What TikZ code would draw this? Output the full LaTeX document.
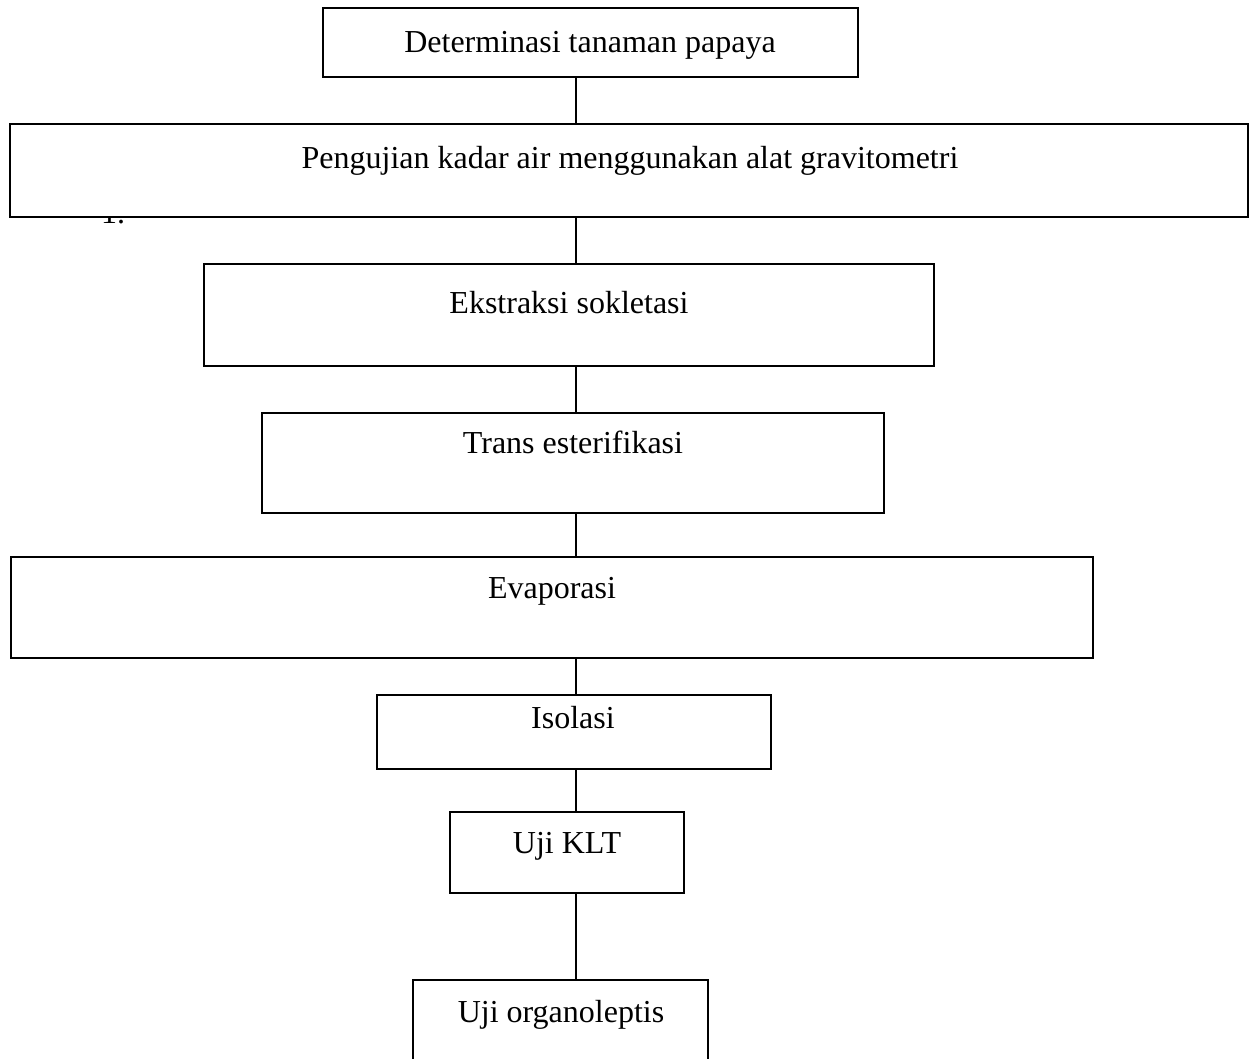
\documentclass[tikz,border=0pt]{standalone}
\usepackage{fontspec}
\setmainfont{Liberation Serif}
\begin{document}
\begin{tikzpicture}[x=1pt,y=-1pt,
  box/.style={draw=black,line width=2pt,fill=white},
  lbl/.style={anchor=base,inner sep=0pt,font=\fontsize{32}{36}\selectfont},
  conn/.style={draw=black,line width=2pt}]
\useasboundingbox[fill=white] (0,0) rectangle (1250,1058);
\clip (0,0) rectangle (1250,1058);
% stray fragment of text, mostly hidden behind box 2
\node[lbl,anchor=base west] (frag) at (101,223) {1.};
% boxes
\coordinate (b1a) at (323,8);   \coordinate (b1b) at (858,77);
\coordinate (b2a) at (10,124);  \coordinate (b2b) at (1248,217);
\coordinate (b3a) at (204,264); \coordinate (b3b) at (934,366);
\coordinate (b4a) at (262,413); \coordinate (b4b) at (884,513);
\coordinate (b5a) at (11,557);  \coordinate (b5b) at (1093,658);
\coordinate (b6a) at (377,695); \coordinate (b6b) at (771,769);
\coordinate (b7a) at (450,812); \coordinate (b7b) at (684,893);
\coordinate (b8a) at (413,980); \coordinate (b8b) at (708,1080);
\foreach \i in {1,...,8} {\filldraw[box] (b\i a) rectangle (b\i b);}
% labels
\node[lbl] (t1) at (590,52) {Determinasi tanaman papaya};
\node[lbl] (t2) at (630,168) {Pengujian kadar air menggunakan alat gravitometri};
\node[lbl] (t3) at (569,313) {Ekstraksi sokletasi};
\node[lbl] (t4) at (573,453) {Trans esterifikasi};
\node[lbl] (t5) at (552,598) {Evaporasi};
\node[lbl] (t6) at (573,728) {Isolasi};
\node[lbl] (t7) at (567,853) {Uji KLT};
\node[lbl] (t8) at (561,1022) {Uji organoleptis};
% connectors
\coordinate (c1a) at (576,77);  \coordinate (c1b) at (576,124);
\coordinate (c2a) at (576,217); \coordinate (c2b) at (576,264);
\coordinate (c3a) at (576,366); \coordinate (c3b) at (576,413);
\coordinate (c4a) at (576,513); \coordinate (c4b) at (576,557);
\coordinate (c5a) at (576,658); \coordinate (c5b) at (576,695);
\coordinate (c6a) at (576,769); \coordinate (c6b) at (576,812);
\coordinate (c7a) at (576,893); \coordinate (c7b) at (576,980);
\foreach \i in {1,...,7} {\draw[conn] (c\i a) -- (c\i b);}
\end{tikzpicture}
\end{document}
